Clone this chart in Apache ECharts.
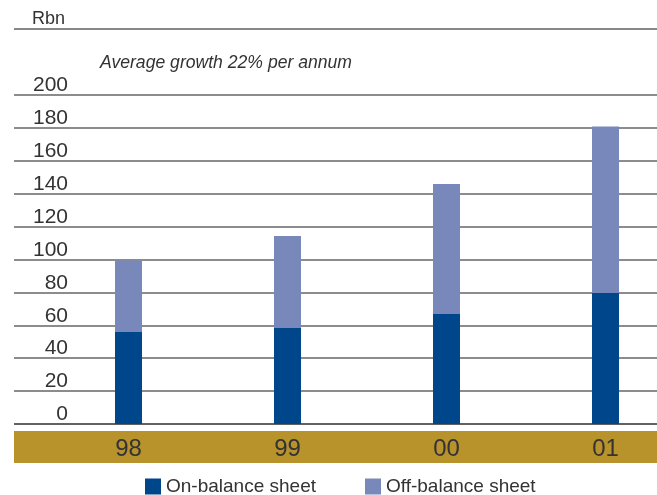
<!DOCTYPE html>
<html>
<head>
<meta charset="utf-8">
<script src="https://cdn.jsdelivr.net/npm/echarts@6/dist/echarts.min.js"></script>
<style>html,body{margin:0;padding:0;background:#fff}#c{width:657px;height:495px}</style>
</head>
<body>
<div id="c"></div>
<script>
const categories = ['98', '99', '00', '01'];
const onBalance = [56, 58.4, 66.8, 79.6];
const offBalance = [43.4, 55.9, 79.1, 101.2];
const yTicks = { min: 0, max: 200, interval: 20 };
const unitLabel = 'Rbn';
const subtitle = 'Average growth 22% per annum';

const FONT = '"Liberation Sans", Arial, sans-serif';
const chart = echarts.init(document.getElementById('c'), null, { renderer: 'canvas' });
chart.setOption({
  animation: false,
  textStyle: { fontFamily: FONT },
  grid: [
    { left: 14, right: 0, top: 95, height: 329 },
    { left: 128.5, right: 51.5, top: 95, height: 329 }
  ],
  xAxis: [
    { gridIndex: 0, type: 'category', data: categories, show: false },
    {
      gridIndex: 1, type: 'category', data: categories, boundaryGap: false,
      axisLine: { show: false }, axisTick: { show: false },
      axisLabel: { color: '#333', fontSize: 24, fontFamily: FONT, margin: 13, verticalAlign: 'top', lineHeight: 24 }
    }
  ],
  yAxis: [
    {
      gridIndex: 0, type: 'value', min: yTicks.min, max: yTicks.max, interval: yTicks.interval,
      axisLine: { show: false }, axisTick: { show: false },
      splitLine: { show: true, lineStyle: { color: '#666', width: 1.5 } },
      axisLabel: {
        inside: true, margin: 54, align: 'right', verticalAlign: 'bottom',
        color: '#333', fontSize: 21, fontFamily: FONT, lineHeight: 19
      }
    },
    { gridIndex: 1, type: 'value', min: yTicks.min, max: yTicks.max, interval: yTicks.interval, show: false }
  ],
  legend: {
    left: 145, top: 477, padding: 0, itemWidth: 16, itemHeight: 16, itemGap: 49, icon: 'rect',
    textStyle: { color: '#333', fontSize: 19, fontFamily: FONT },
    data: ['On-balance sheet', 'Off-balance sheet']
  },
  graphic: {
    elements: [
      { type: 'rect', z: -1, shape: { x: 14, y: 431, width: 643, height: 32 }, style: { fill: '#b8922b' } },
      { type: 'line', shape: { x1: 14, y1: 424, x2: 657, y2: 424 }, style: { stroke: '#222', lineWidth: 1.5 } },
      { type: 'line', shape: { x1: 14, y1: 29, x2: 657, y2: 29 }, style: { stroke: '#888', lineWidth: 2 } },
      { type: 'text', x: 32, y: 19, style: { text: unitLabel, fill: '#333', font: '18px ' + FONT, textVerticalAlign: 'middle' } },
      { type: 'text', x: 100, y: 63, style: { text: subtitle, fill: '#333', font: 'italic 17.6px ' + FONT, textVerticalAlign: 'middle' } }
    ]
  },
  series: [
    { name: 'On-balance sheet', type: 'bar', stack: 't', xAxisIndex: 1, yAxisIndex: 1, barWidth: 27, clip: false, data: onBalance, itemStyle: { color: '#00468b' } },
    { name: 'Off-balance sheet', type: 'bar', stack: 't', xAxisIndex: 1, yAxisIndex: 1, barWidth: 27, clip: false, data: offBalance, itemStyle: { color: '#7888bb' } }
  ]
});
</script>
</body>
</html>
